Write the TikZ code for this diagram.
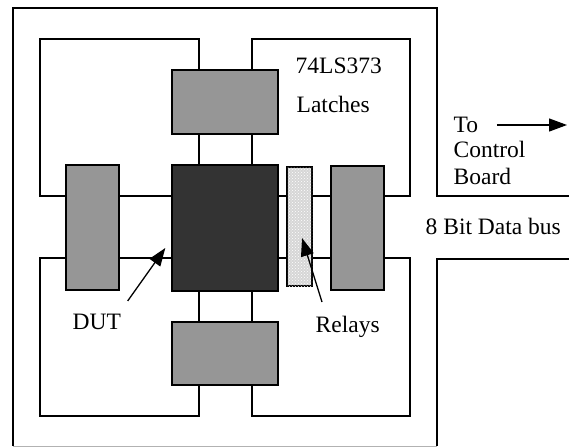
\documentclass[tikz,border=0pt]{standalone}
\usepackage{fontspec}
\setmainfont{Liberation Serif}
\usepackage{tikz}
\usetikzlibrary{arrows.meta, positioning, calc, patterns}
\definecolor{latchgray}{RGB}{150,150,150}
\definecolor{dutgray}{RGB}{51,51,51}
\definecolor{relaygray}{RGB}{214,214,214}

\tikzset{
  latchbox/.style={draw=black, fill=latchgray, inner sep=0pt},
  dutbox/.style={draw=black, fill=dutgray, inner sep=0pt},
  relaybox/.style={draw=black, fill=relaygray, inner sep=0pt,
    postaction={pattern=crosshatch dots, pattern color=white}},
  label/.style={inner sep=0pt, anchor=base west},
  pointer/.style={-{Triangle[length=18pt,width=13pt]}, line width=1.3pt}
}

\begin{document}
\begin{tikzpicture}[x=1pt, y=-1pt, line width=1.4pt, font=\fontsize{23.5}{28}\selectfont]
\useasboundingbox (0,0) rectangle (569,447);

% outer board frame
\draw[line width=1.2pt] (569,196) -- (437,196) -- (437,8) -- (13,8) -- (13,446);
\draw[line width=1.2pt] (569,259) -- (437,259) -- (437,446);
\draw[line width=1pt, black!30] (13,446) -- (437,446);

% boxes
\node[latchbox, minimum width=106pt, minimum height=64pt] (toplatch) at (225,102) {};
\node[latchbox, minimum width=106pt, minimum height=63pt] (botlatch) at (225,353.5) {};
\node[latchbox, minimum width=53pt, minimum height=125pt] (leftlatch) at (92.5,227.5) {};
\node[latchbox, minimum width=53pt, minimum height=124pt] (rightlatch) at (357.5,228) {};
\node[dutbox, minimum width=106pt, minimum height=126pt] (dut) at (225,228) {};
\node[relaybox, minimum width=25pt, minimum height=119pt] (relays) at (299.5,226.5) {};

% wiring levels and loop corners
\coordinate (rowA) at (0,196);
\coordinate (rowB) at (0,258);
\coordinate (colA) at (199,0);
\coordinate (colB) at (252,0);
\coordinate (tl) at (40,39);
\coordinate (tr) at (410,39);
\coordinate (bl) at (40,416);
\coordinate (br) at (410,416);

\draw (leftlatch.west |- rowA) -| (tl) -| (toplatch.north -| colA);
\draw (toplatch.north -| colB) |- (tr) |- (rightlatch.east |- rowA);
\draw (leftlatch.west |- rowB) -| (bl) -| (botlatch.south -| colA);
\draw (botlatch.south -| colB) |- (br) |- (rightlatch.east |- rowB);

\foreach \row in {rowA, rowB} {
  \draw (leftlatch.east |- \row) -- (dut.west |- \row);
  \draw (dut.east |- \row) -- (relays.west |- \row);
  \draw (relays.east |- \row) -- (rightlatch.west |- \row);
}
\foreach \col in {colA, colB} {
  \draw (toplatch.south -| \col) -- (dut.north -| \col);
  \draw (dut.south -| \col) -- (botlatch.north -| \col);
}

% labels
\node[label] (chipname) at (295,73) {74LS373};
\node[label] (latchname) at (296,112) {Latches};
\node[label] (to) at (453,132) {To};
\node[label] (control) at (453,157) {Control};
\node[label] (board) at (453,184) {Board};
\node[label] (bus) at (425,234) {8 Bit Data bus};
\node[label] (dutlabel) at (72,329) {DUT};
\node[label] (relaylabel) at (315,332) {Relays};

% pointers
\coordinate (ctrlboard) at (567,125);
\draw[pointer] (ctrlboard -| to.east) ++(18,0) -- (ctrlboard);
\draw[pointer] ($(dutlabel.north east)+(6,-12)$) -- ($(dut.west)+(-6,20)$);
\draw[pointer] ($(relaylabel.north west)+(7,-13)$) -- ($(relays.center)+(2.5,11.5)$);
\end{tikzpicture}
\end{document}
